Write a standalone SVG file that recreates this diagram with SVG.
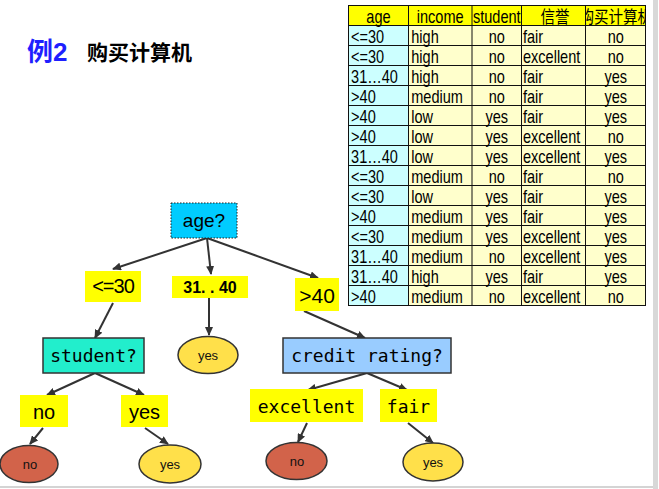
<svg xmlns="http://www.w3.org/2000/svg" width="659" height="489" viewBox="0 0 659 489">
<style>
.tt{font-family:"Liberation Sans","Noto Sans CJK SC",sans-serif;font-size:17.5px;fill:#000}
.c{text-anchor:middle}
.lbl{fill:#ffff00;stroke:none}
.sans{font-family:"Liberation Sans",Arial,sans-serif;fill:#000;text-anchor:middle}
.mono{font-family:"DejaVu Sans Mono","Liberation Mono",monospace;font-size:18px;fill:#000;text-anchor:middle}
.leaf{font-family:"Liberation Sans",Arial,sans-serif;font-size:13px;fill:#111;text-anchor:middle}
.edge{stroke:#333;stroke-width:2;fill:none;marker-end:url(#ah)}
</style>
<defs>
<marker id="ah" markerUnits="userSpaceOnUse" markerWidth="9" markerHeight="8" refX="8" refY="4" orient="auto">
<path d="M0,0 L9,4 L0,8 z" fill="#333"/>
</marker>
<clipPath id="hc"><rect x="586" y="5" width="60" height="21"/></clipPath>
</defs>
<rect width="659" height="489" fill="#fff"/>
<rect x="653" y="0" width="5" height="489" fill="#d8d8d8"/>
<rect x="0" y="486" width="653" height="2" fill="#d4d4d4"/>

<g id="title">
<text x="27" y="60.5" font-family="'Liberation Sans','Noto Sans CJK SC',sans-serif" font-size="26" font-weight="bold" fill="#1f1fff">例2</text>
<text x="87" y="60" font-family="'Noto Sans CJK SC',sans-serif" font-size="21" font-weight="bold" fill="#000">购买计算机</text>
</g>

<g id="table">
<rect x="348" y="5.5" width="298" height="20" fill="#ffff00"/>
<rect x="348" y="25.5" width="60.5" height="280" fill="#ccffff"/>
<rect x="408.5" y="25.5" width="237.5" height="280" fill="#ffffcc"/>
<path d="M348,5.5H646M348,25.5H646M348,45.5H646M348,65.5H646M348,85.5H646M348,105.5H646M348,125.5H646M348,145.5H646M348,165.5H646M348,185.5H646M348,205.5H646M348,225.5H646M348,245.5H646M348,265.5H646M348,285.5H646M348,305.5H646M348.5,5V306M408.5,5V306M472,5V306M521.5,5V306M585.5,5V306M645.5,5V306" stroke="#111" stroke-width="1" fill="none"/>
<g class="tt" transform="scale(0.83,1)">
<text class="c" x="456" y="23">age</text>
<text class="c" x="530.4" y="23">income</text>
<text class="c" x="598.5" y="23">student</text>
<text class="c" x="668.7" y="23">信誉</text>
</g>
<g clip-path="url(#hc)"><text class="tt c" transform="scale(0.83,1)" x="741.9" y="23">购买计算机</text></g>
<g class="tt" transform="scale(0.83,1)">
<text x="423" y="43.5">&lt;=30</text><text x="495.5" y="43.5">high</text><text class="c" x="598.5" y="43.5">no</text><text x="630.1" y="43.5">fair</text><text class="c" x="741.9" y="43.5">no</text>
<text x="423" y="63.5">&lt;=30</text><text x="495.5" y="63.5">high</text><text class="c" x="598.5" y="63.5">no</text><text x="630.1" y="63.5">excellent</text><text class="c" x="741.9" y="63.5">no</text>
<text x="423" y="83.5">31…40</text><text x="495.5" y="83.5">high</text><text class="c" x="598.5" y="83.5">no</text><text x="630.1" y="83.5">fair</text><text class="c" x="741.9" y="83.5">yes</text>
<text x="423" y="103.5">&gt;40</text><text x="495.5" y="103.5">medium</text><text class="c" x="598.5" y="103.5">no</text><text x="630.1" y="103.5">fair</text><text class="c" x="741.9" y="103.5">yes</text>
<text x="423" y="123.5">&gt;40</text><text x="495.5" y="123.5">low</text><text class="c" x="598.5" y="123.5">yes</text><text x="630.1" y="123.5">fair</text><text class="c" x="741.9" y="123.5">yes</text>
<text x="423" y="143.5">&gt;40</text><text x="495.5" y="143.5">low</text><text class="c" x="598.5" y="143.5">yes</text><text x="630.1" y="143.5">excellent</text><text class="c" x="741.9" y="143.5">no</text>
<text x="423" y="163.5">31…40</text><text x="495.5" y="163.5">low</text><text class="c" x="598.5" y="163.5">yes</text><text x="630.1" y="163.5">excellent</text><text class="c" x="741.9" y="163.5">yes</text>
<text x="423" y="183.5">&lt;=30</text><text x="495.5" y="183.5">medium</text><text class="c" x="598.5" y="183.5">no</text><text x="630.1" y="183.5">fair</text><text class="c" x="741.9" y="183.5">no</text>
<text x="423" y="203.5">&lt;=30</text><text x="495.5" y="203.5">low</text><text class="c" x="598.5" y="203.5">yes</text><text x="630.1" y="203.5">fair</text><text class="c" x="741.9" y="203.5">yes</text>
<text x="423" y="223.5">&gt;40</text><text x="495.5" y="223.5">medium</text><text class="c" x="598.5" y="223.5">yes</text><text x="630.1" y="223.5">fair</text><text class="c" x="741.9" y="223.5">yes</text>
<text x="423" y="243.5">&lt;=30</text><text x="495.5" y="243.5">medium</text><text class="c" x="598.5" y="243.5">yes</text><text x="630.1" y="243.5">excellent</text><text class="c" x="741.9" y="243.5">yes</text>
<text x="423" y="263.5">31…40</text><text x="495.5" y="263.5">medium</text><text class="c" x="598.5" y="263.5">no</text><text x="630.1" y="263.5">excellent</text><text class="c" x="741.9" y="263.5">yes</text>
<text x="423" y="283.5">31…40</text><text x="495.5" y="283.5">high</text><text class="c" x="598.5" y="283.5">yes</text><text x="630.1" y="283.5">fair</text><text class="c" x="741.9" y="283.5">yes</text>
<text x="423" y="303.5">&gt;40</text><text x="495.5" y="303.5">medium</text><text class="c" x="598.5" y="303.5">no</text><text x="630.1" y="303.5">excellent</text><text class="c" x="741.9" y="303.5">no</text>
</g>
</g>

<g id="connectors">
<path class="edge" d="M207,238 L113,269"/>
<path class="edge" d="M207,238 L211,274"/>
<path class="edge" d="M207,238 L318,278"/>
<path class="edge" d="M113,303 L95,338"/>
<path class="edge" d="M209,298 L209,335"/>
<path class="edge" d="M304,311 L365,338"/>
<path class="edge" d="M95,373 L47,395"/>
<path class="edge" d="M95,373 L144,395"/>
<path class="edge" d="M43,428 L30,444"/>
<path class="edge" d="M145,428 L168,444"/>
<path class="edge" d="M367,373 L308,390"/>
<path class="edge" d="M367,373 L407,390"/>
<path class="edge" d="M307,423 L298,442"/>
<path class="edge" d="M408,423 L433,443"/>
</g>

<g id="node-age">
<rect x="171" y="203" width="66" height="35" fill="#00ccff" stroke="#222" stroke-width="1" stroke-dasharray="1.5 1.5"/>
<text class="sans" x="204" y="227" font-size="19">age?</text>
</g>
<g id="label-le30">
<rect class="lbl" x="85" y="271" width="56" height="31"/>
<text class="sans" x="113" y="293" font-size="20" letter-spacing="-1">&lt;=30</text>
</g>
<g id="label-31-40">
<rect class="lbl" x="172" y="276" width="76" height="22"/>
<text class="sans" x="210" y="293" font-size="16" font-weight="bold">31. . 40</text>
</g>
<g id="label-gt40">
<rect class="lbl" x="295" y="278" width="44" height="33"/>
<text class="sans" x="317" y="303" font-size="21">&gt;40</text>
</g>
<g id="node-student">
<rect x="43" y="338" width="101" height="35" fill="#22eecc" stroke="#333" stroke-width="1.5"/>
<text class="mono" x="93.5" y="362">student?</text>
</g>
<g id="leaf-yes-31-40">
<ellipse cx="208" cy="355" rx="30" ry="18.5" fill="#ffe04a" stroke="#333" stroke-width="1.5"/>
<text class="leaf" x="208" y="359.5">yes</text>
</g>
<g id="node-credit">
<rect x="283" y="338" width="168" height="35" fill="#99ccff" stroke="#333" stroke-width="1.5"/>
<text class="mono" x="367" y="362">credit rating?</text>
</g>
<g id="label-no">
<rect class="lbl" x="20" y="395" width="48" height="32"/>
<text class="sans" x="44" y="419" font-size="20">no</text>
</g>
<g id="label-yes">
<rect class="lbl" x="121" y="395" width="47" height="32"/>
<text class="sans" x="144.5" y="419" font-size="20">yes</text>
</g>
<g id="label-excellent">
<rect class="lbl" x="250" y="389" width="113" height="33"/>
<text class="mono" x="306.5" y="413">excellent</text>
</g>
<g id="label-fair">
<rect class="lbl" x="380" y="389" width="57" height="33"/>
<text class="mono" x="408.5" y="413">fair</text>
</g>
<g id="leaf-no-student">
<ellipse cx="29" cy="464" rx="29" ry="18.5" fill="#d2634a" stroke="#333" stroke-width="1.5"/>
<text class="leaf" x="30" y="468.5">no</text>
</g>
<g id="leaf-yes-student">
<ellipse cx="170" cy="464" rx="31" ry="19" fill="#ffe04a" stroke="#333" stroke-width="1.5"/>
<text class="leaf" x="170" y="468.5">yes</text>
</g>
<g id="leaf-no-credit">
<ellipse cx="296.5" cy="461" rx="30.5" ry="18.5" fill="#d2634a" stroke="#333" stroke-width="1.5"/>
<text class="leaf" x="297" y="465.5">no</text>
</g>
<g id="leaf-yes-credit">
<ellipse cx="433" cy="462" rx="30" ry="19" fill="#ffe04a" stroke="#333" stroke-width="1.5"/>
<text class="leaf" x="433" y="466.5">yes</text>
</g>
</svg>
